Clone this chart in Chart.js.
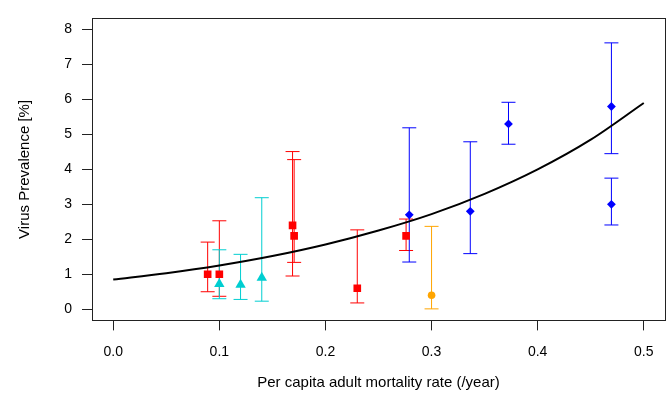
<!DOCTYPE html>
<html>
<head>
<meta charset="utf-8">
<script src="https://cdn.jsdelivr.net/npm/chart.js@4/dist/chart.umd.min.js"></script>
<style>
  html, body { margin: 0; padding: 0; background: #fff; }
  #wrap { width: 671px; height: 397px; position: relative; }
</style>
</head>
<body>
<div id="wrap"><canvas id="chart"></canvas></div>
<script>
// fitted curve
const curveX = [0, 0.05, 0.1, 0.15, 0.2, 0.25, 0.3, 0.35, 0.4, 0.45, 0.5];
const curveY = [0.85, 1.03, 1.25, 1.52, 1.85, 2.25, 2.72, 3.3, 4.0, 4.85, 5.9];

// red squares
const redX  = [0.089, 0.1, 0.169, 0.1705, 0.23, 0.276];
const redY  = [1.0, 1.0, 2.4, 2.1, 0.6, 2.1];
const redLo = [0.5, 0.37, 0.95, 1.34, 0.18, 1.68];
const redHi = [1.92, 2.53, 4.51, 4.28, 2.27, 2.58];

// turquoise triangles
const cyanX  = [0.1, 0.12, 0.14];
const cyanY  = [0.72, 0.7, 0.9];
const cyanLo = [0.3, 0.28, 0.23];
const cyanHi = [1.7, 1.57, 3.19];

// orange circle
const orangeX  = [0.3];
const orangeY  = [0.4];
const orangeLo = [0.01];
const orangeHi = [2.37];

// blue diamonds
const blueX  = [0.279, 0.3365, 0.3725, 0.4695, 0.4695];
const blueY  = [2.7, 2.8, 5.3, 5.8, 3.0];
const blueLo = [1.35, 1.59, 4.72, 4.45, 2.41];
const blueHi = [5.19, 4.79, 5.92, 7.62, 3.75];

const xTicks = [0, 0.1, 0.2, 0.3, 0.4, 0.5];
const xLabels = ['0.0', '0.1', '0.2', '0.3', '0.4', '0.5'];
const yTicks = [0, 1, 2, 3, 4, 5, 6, 7, 8];
const yLabels = ['0', '1', '2', '3', '4', '5', '6', '7', '8'];

const pts = (xs, ys) => xs.map((v, i) => ({ x: v, y: ys[i] }));

const TICK_FONT = { family: "'Liberation Sans', Arial, sans-serif", size: 14 };
const TITLE_FONT = { family: "'Liberation Sans', Arial, sans-serif", size: 15 };

const errorBars = {
  id: 'errorBars',
  beforeDatasetsDraw(chart) {
    const { ctx, scales: { x, y } } = chart;
    ctx.save();
    ctx.lineWidth = 1;
    chart.data.datasets.forEach(ds => {
      if (!ds.errLo) return;
      ctx.strokeStyle = ds.backgroundColor;
      ds.data.forEach((p, i) => {
        const px = x.getPixelForValue(p.x);
        const lo = y.getPixelForValue(ds.errLo[i]);
        const hi = y.getPixelForValue(ds.errHi[i]);
        ctx.beginPath();
        ctx.moveTo(px, lo); ctx.lineTo(px, hi);
        ctx.moveTo(px - 7, lo); ctx.lineTo(px + 7, lo);
        ctx.moveTo(px - 7, hi); ctx.lineTo(px + 7, hi);
        ctx.stroke();
      });
    });
    ctx.restore();
  }
};

const plotBox = {
  id: 'plotBox',
  afterDraw(chart) {
    const { ctx, chartArea: a } = chart;
    ctx.save();
    ctx.strokeStyle = '#222';
    ctx.lineWidth = 1;
    ctx.strokeRect(Math.round(a.left) + 0.5, Math.round(a.top) + 0.5,
      Math.round(a.right - a.left), Math.round(a.bottom - a.top));
    ctx.restore();
  }
};

function scatterSet(xs, ys, lo, hi, color, style, r) {
  return {
    type: 'scatter',
    data: pts(xs, ys),
    errLo: lo,
    errHi: hi,
    backgroundColor: color,
    borderColor: color,
    pointStyle: style,
    pointRadius: r,
    pointBorderWidth: 0,
    order: 0
  };
}

new Chart(document.getElementById('chart'), {
  type: 'scatter',
  data: {
    datasets: [
      {
        type: 'line',
        data: pts(curveX, curveY),
        borderColor: '#000',
        borderWidth: 2,
        pointRadius: 0,
        cubicInterpolationMode: 'monotone',
        fill: false,
        order: 1
      },
      scatterSet(redX, redY, redLo, redHi, '#ff0000', 'rect', 5.4),
      scatterSet(cyanX, cyanY, cyanLo, cyanHi, '#00ced1', 'triangle', 6),
      scatterSet(orangeX, orangeY, orangeLo, orangeHi, '#ffa500', 'circle', 3.8),
      scatterSet(blueX, blueY, blueLo, blueHi, '#0000ff', 'rectRot', 4.4)
    ]
  },
  options: {
    responsive: true,
    maintainAspectRatio: false,
    animation: false,
    devicePixelRatio: 1,
    layout: { padding: { top: 11.6, right: 5, left: 0, bottom: 0 } },
    plugins: { legend: { display: false }, tooltip: { enabled: false } },
    scales: {
      x: {
        type: 'linear',
        min: -0.02,
        max: 0.52,
        afterFit: s => { s.height = 76.6; },
        afterBuildTicks: s => { s.ticks = xTicks.map(v => ({ value: v })); },
        ticks: { callback: (v, i) => xLabels[i], color: '#000', font: TICK_FONT, padding: 13, maxRotation: 0, autoSkip: false },
        grid: { drawOnChartArea: false, tickLength: 10, color: '#222' },
        border: { display: false },
        title: { display: true, text: 'Per capita adult mortality rate (/year)', color: '#000', font: TITLE_FONT, padding: { top: 0, bottom: 5 } }
      },
      y: {
        type: 'linear',
        min: -0.32,
        max: 8.32,
        afterFit: s => { s.width = 92; },
        afterBuildTicks: s => { s.ticks = yTicks.map(v => ({ value: v })); },
        ticks: { callback: (v, i) => yLabels[i], color: '#000', font: TICK_FONT, padding: 10, autoSkip: false },
        grid: { drawOnChartArea: false, tickLength: 10, color: '#222' },
        border: { display: false },
        title: { display: true, text: 'Virus Prevalence [%]', color: '#000', font: TITLE_FONT, padding: { top: 16, bottom: 0 } }
      }
    }
  },
  plugins: [errorBars, plotBox]
});
</script>
</body>
</html>
